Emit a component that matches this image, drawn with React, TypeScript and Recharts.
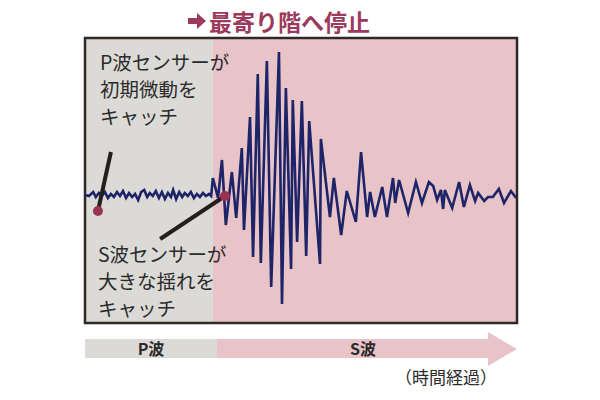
import { LineChart, Line, XAxis, YAxis, ReferenceArea, ReferenceLine, ReferenceDot } from "recharts";

// time (0-100 across the frame) and amplitude of the seismograph trace
const times = [
  0, 0.9, 1.9, 2.5, 3.2, 3.9, 4.6, 5.3, 6.0, 6.7, 7.4, 8.1, 8.8, 9.5, 10.2, 10.9, 11.6, 12.3,
  13.0, 13.7, 14.4, 15.0, 15.7, 16.4, 17.1, 17.8, 18.5, 19.2, 19.9, 20.4, 21.1, 21.8, 22.5,
  23.1, 23.8, 24.5, 25.2, 25.9, 26.6, 27.3, 28.0, 28.7, 29.2,
  29.6, 30.8, 31.7, 32.6, 34.0, 35.0, 36.3, 36.8, 38.2, 38.9, 40.0, 40.7, 42.1, 43.1, 44.9,
  45.6, 46.5, 47.7, 48.1, 49.1, 50.2, 51.2, 51.9, 54.4, 54.6, 56.7, 57.6, 59.3, 60.6, 62.7,
  63.9, 65.3, 66.0, 67.1, 68.8, 69.9, 71.3, 71.8, 72.7, 74.8, 76.6, 78.0, 79.6, 80.6, 81.5,
  82.4, 82.9, 83.3, 85.0, 86.6, 87.7, 89.1, 90.3, 91.0, 92.4, 93.3, 94.4, 95.8, 97.0, 98.6, 99.8,
];
const amplitudes = [
  0, -1, 3, -2, 2, -1, 3, -3, 1, -2, 3, -1, 4, -3, 2, -2, 1, -5,
  3, 5, -2, 2, -1, 4, -3, 3, -4, 2, -2, 5, -4, 3, -2,
  2, -1, 3, -3, 1, -2, 2, -1, 1, -1,
  17, -3, 35, -30, 23, -23, 47, -35, 78, -62, 121, -68, 134, -92, 143,
  -109, 107, -74, 95, -47, 94, -61, 74, -69, 56, -22, 17, -40, 4, -27,
  43, -22, 3, -22, 8, -22, 17, -8, 15, -18, 13, -8, 13, 9, -5,
  5, -14, 5, -13, 13, -12, 10, -6, 2, -6, -2, -2, 6, -8, 4, -3,
];

const pArrival = 29.6;
const pSensor = { t: 3.0, a: -16, labelT: 6.0, labelA: 43 };
const sSensor = { t: 32.4, a: -1, labelT: 17.4, labelA: -44 };

const pLabel = ["P波センサーが", "初期微動を", "キャッチ"];
const sLabel = ["S波センサーが", "大きな揺れを", "キャッチ"];
const title = "最寄り階へ停止";

const data = times.map((t, i) => ({ t, a: amplitudes[i] }));

const GRAY = "#dcdad6";
const PINK = "#e8c3c8";
const FONT = "'Noto Sans CJK JP', 'Noto Sans', sans-serif";

export default function App() {
  return (
    <div style={{ position: "absolute", left: 0, top: 0, width: 600, height: 400, background: "#fff", fontFamily: FONT }}>
      <LineChart width={600} height={400} data={data} margin={{ top: 38, right: 83, bottom: 77, left: 85 }}>
        <XAxis type="number" dataKey="t" domain={[0, 100]} hide />
        <YAxis type="number" domain={[-128, 157]} hide />
        <ReferenceArea x1={0} x2={pArrival} y1={-128} y2={157} fill={GRAY} fillOpacity={1} />
        <ReferenceArea x1={pArrival} x2={100} y1={-128} y2={157} fill={PINK} fillOpacity={1} />
        <Line type="linear" dataKey="a" stroke="#1d2467" strokeWidth={2.6} dot={false} isAnimationActive={false} />
        <ReferenceLine segment={[{ x: pSensor.t, y: pSensor.a }, { x: pSensor.labelT, y: pSensor.labelA }]} stroke="#231f1c" strokeWidth={4} />
        <ReferenceLine segment={[{ x: sSensor.t, y: sSensor.a }, { x: sSensor.labelT, y: sSensor.labelA }]} stroke="#231f1c" strokeWidth={4} />
        <ReferenceDot x={pSensor.t} y={pSensor.a} r={5} fill="#9a3352" stroke="none" />
        <ReferenceDot x={sSensor.t} y={sSensor.a} r={5} fill="#9a3352" stroke="none" />
        <ReferenceArea x1={0} x2={100} y1={-128} y2={157} fill="none" stroke="#2e2926" strokeWidth={2.5} />
      </LineChart>

      <svg width={600} height={400} style={{ position: "absolute", left: 0, top: 0, pointerEvents: "none" }}>
        <polygon points="188,18 197,18 197,13 206,21 197,29 197,24 188,24" fill="#9b3a5c" />
        <rect x={85} y={339} width={132} height={19} fill={GRAY} />
        <polygon points="217,339 488,339 488,332 517,349 488,366 488,358 217,358" fill={PINK} />
      </svg>

      <div style={{ position: "absolute", left: 209, top: 5, fontSize: 23, fontWeight: 700, color: "#9b3a5c", whiteSpace: "nowrap", lineHeight: "32px" }}>
        {title}
      </div>
      <div style={{ position: "absolute", left: 100, top: 48, fontSize: 19.5, color: "#2b2b2b", lineHeight: "27px", whiteSpace: "nowrap" }}>
        {pLabel.map((s) => <div key={s}>{s}</div>)}
      </div>
      <div style={{ position: "absolute", left: 98, top: 240, fontSize: 19.5, color: "#2b2b2b", lineHeight: "27px", whiteSpace: "nowrap" }}>
        {sLabel.map((s) => <div key={s}>{s}</div>)}
      </div>
      <div style={{ position: "absolute", left: 85, width: 132, top: 339, lineHeight: "19px", fontSize: 16, fontWeight: 700, color: "#2b2b2b", textAlign: "center" }}>P波</div>
      <div style={{ position: "absolute", left: 300, width: 126, top: 339, lineHeight: "19px", fontSize: 16, fontWeight: 700, color: "#2b2b2b", textAlign: "center" }}>S波</div>
      <div style={{ position: "absolute", left: 395, top: 366, lineHeight: "22px", fontSize: 17, color: "#2b2b2b", whiteSpace: "nowrap" }}>（時間経過）</div>
    </div>
  );
}
